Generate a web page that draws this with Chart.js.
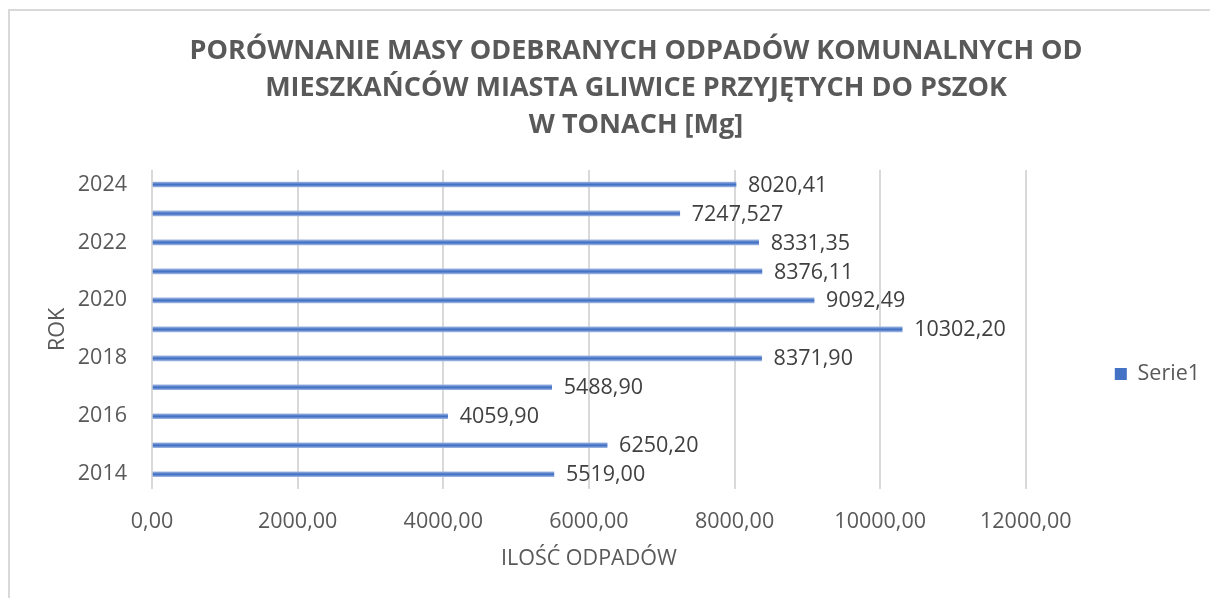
<!DOCTYPE html>
<html>
<head>
<meta charset="utf-8">
<script src="https://cdn.jsdelivr.net/npm/chart.js@4.4.1/dist/chart.umd.min.js"></script>
<style>
  html, body { margin: 0; padding: 0; background: #ffffff; overflow: hidden; }
  #wrap { position: relative; width: 1210px; height: 598px; }
  #frame { position: absolute; left: 8px; top: 9px; width: 1300px; height: 700px;
           border-left: 2px solid #d9d9d9; border-top: 2px solid #d9d9d9; pointer-events: none; }
  canvas { position: absolute; left: 0; top: 0; }
</style>
</head>
<body>
<div id="wrap">
  <div id="frame"></div>
  <canvas id="c" width="1210" height="598"></canvas>
</div>
<script>
// ---- data ----
const years = ['2014','2015','2016','2017','2018','2019','2020','2021','2022','2023','2024'];
const wasteMg = [5519.00, 6250.20, 4059.90, 5488.90, 8371.90, 10302.20, 9092.49, 8376.11, 8331.35, 7247.527, 8020.41];
const valueLabels = ['5519,00','6250,20','4059,90','5488,90','8371,90','10302,20','9092,49','8376,11','8331,35','7247,527','8020,41'];
const shownYearTicks = ['2014','2016','2018','2020','2022','2024'];
const xTickValues = [0, 2000, 4000, 6000, 8000, 10000, 12000];
const seriesName = 'Serie1';
const titleLines = ['PORÓWNANIE MASY ODEBRANYCH ODPADÓW KOMUNALNYCH OD', 'MIESZKAŃCÓW MIASTA GLIWICE PRZYJĘTYCH DO PSZOK', 'W TONACH [Mg]'];
const yTitle = 'ROK';
const xTitle = 'ILOŚĆ ODPADÓW';

const FONT = "'Open Sans', 'DejaVu Sans', sans-serif";
const TXT = '#595959';
const BLUE = '#4472C4';

function barFill(ctx) {
  if (ctx.type !== 'data') return BLUE;
  const chart = ctx.chart;
  const y = chart.scales && chart.scales.y;
  if (!y || !chart.chartArea) return BLUE;
  const yc = y.getPixelForValue(ctx.dataIndex);
  const g = chart.ctx.createLinearGradient(0, yc - 2.5, 0, yc + 2.5);
  g.addColorStop(0, '#9DB5E2');
  g.addColorStop(0.45, BLUE);
  g.addColorStop(0.6, BLUE);
  g.addColorStop(1, '#9DB5E2');
  return g;
}

const valueLabelPlugin = {
  id: 'valueLabels',
  afterDatasetsDraw(chart) {
    const ctx = chart.ctx;
    const meta = chart.getDatasetMeta(0);
    ctx.save();
    ctx.font = "21.5px " + FONT;
    ctx.fillStyle = '#404040';
    ctx.textAlign = 'left';
    ctx.textBaseline = 'middle';
    meta.data.forEach((el, i) => {
      ctx.fillText(valueLabels[i], el.x + 12, el.y + 1);
    });
    ctx.restore();
  }
};

new Chart(document.getElementById('c'), {
  type: 'bar',
  data: {
    labels: years,
    datasets: [{
      label: seriesName,
      data: wasteMg,
      backgroundColor: barFill,
      borderWidth: 0,
      barThickness: 5
    }]
  },
  plugins: [valueLabelPlugin],
  options: {
    indexAxis: 'y',
    responsive: false,
    animation: false,
    devicePixelRatio: 1,
    layout: { padding: { left: 62, right: 0, top: 0, bottom: 0 } },
    plugins: {
      title: {
        display: true,
        text: titleLines,
        color: TXT,
        font: { family: FONT, size: 27, weight: 'bold', lineHeight: 1.37 },
        padding: { top: 33, bottom: 26 }
      },
      legend: {
        display: true,
        position: 'right',
        fullSize: false,
        title: { display: true, text: '', font: { size: 1 }, padding: { top: 88, bottom: 0 } },
        labels: {
          color: TXT,
          font: { family: FONT, size: 21.5 },
          boxWidth: 12,
          boxHeight: 12,
          padding: 10,
          generateLabels(chart) {
            return Chart.defaults.plugins.legend.labels.generateLabels(chart).map(l =>
              Object.assign(l, { fillStyle: BLUE, strokeStyle: BLUE, lineWidth: 0 }));
          }
        }
      },
      tooltip: { enabled: false }
    },
    scales: {
      x: {
        min: 0,
        max: 12000,
        afterBuildTicks(s) { s.ticks = xTickValues.map(v => ({ value: v })); },
        afterFit(s) { s.height = 109.3; },
        grid: { color: '#d9d9d9', lineWidth: 2, drawTicks: false },
        border: { display: false },
        ticks: {
          color: TXT,
          font: { family: FONT, size: 21.5 },
          padding: 20,
          callback: v => Number(v).toFixed(2).replace('.', ',')
        },
        title: {
          display: true,
          text: xTitle,
          color: TXT,
          font: { family: FONT, size: 21.5 },
          padding: { top: 0, bottom: 26 }
        }
      },
      y: {
        reverse: true,
        afterFit(s) { s.width = 90; },
        grid: { display: false, drawTicks: false },
        border: { display: false },
        ticks: {
          color: TXT,
          font: { family: FONT, size: 21.5 },
          padding: 25,
          autoSkip: false,
          callback: function (v) {
            const lab = this.getLabelForValue(v);
            return shownYearTicks.includes(lab) ? lab : '';
          }
        },
        title: {
          display: true,
          text: yTitle,
          color: TXT,
          font: { family: FONT, size: 21.5 },
          padding: { top: -17, bottom: 0 }
        }
      },
      legendGap: {
        type: 'category',
        position: 'right',
        display: true,
        afterFit(s) { s.width = 79; },
        grid: { display: false, drawTicks: false },
        border: { display: false },
        ticks: { display: false },
        title: { display: false }
      }
    }
  }
});
</script>
</body>
</html>
